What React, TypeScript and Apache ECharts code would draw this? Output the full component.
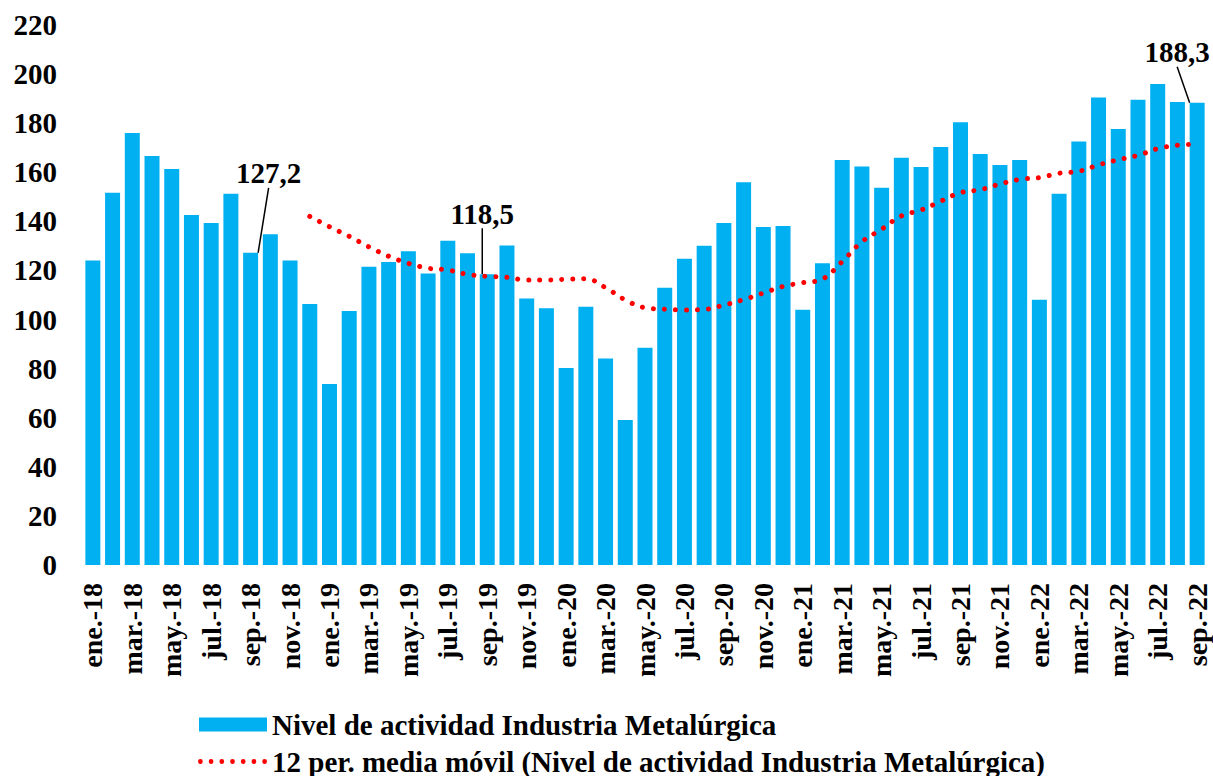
import React, { useEffect, useRef } from "react";
import * as echarts from "echarts";

const monthAbbr = ["ene.", "feb.", "mar.", "abr.", "may.", "jun.", "jul.", "ago.", "sep.", "oct.", "nov.", "dic."];
const years = ["18", "19", "20", "21", "22"];
const lastMonthCount = 9; // 2022 ends in sep.

const categories: string[] = [];
years.forEach((y, yi) => {
  const n = yi === years.length - 1 ? lastMonthCount : 12;
  for (let m = 0; m < n; m++) categories.push(`${monthAbbr[m]}-${y}`);
});

const activity = [
  124.1, 151.7, 176.0, 166.6, 161.3, 142.6, 139.3, 151.3, 127.2, 134.7, 124.1, 106.3,
  73.7, 103.5, 121.5, 123.4, 127.8, 118.8, 132.1, 127.0, 118.5, 130.2, 108.6, 104.6,
  80.3, 105.2, 84.1, 59.1, 88.5, 113.0, 124.8, 130.1, 139.3, 155.9, 137.7, 138.1,
  104.0, 122.9, 165.0, 162.4, 153.7, 165.9, 162.1, 170.3, 180.4, 167.4, 163.0, 165.0,
  108.1, 151.3, 172.5, 190.5, 177.6, 189.5, 196.0, 188.6, 188.3,
];

// 12-period moving average (starts at dic.-18)
const movingAvg = [
  null, null, null, null, null, null, null, null, null, null, null,
  142.0, 137.8, 133.9, 129.6, 125.8, 122.9, 120.9, 120.2, 118.4, 117.6, 117.2, 116.1,
  116.1, 116.4, 116.6, 113.0, 108.0, 104.8, 104.2, 103.9, 104.1, 105.9, 108.1, 110.8,
  113.5, 115.0, 116.5, 123.6, 131.7, 136.8, 142.2, 144.6, 148.2, 151.7, 152.9, 155.2,
  157.1, 157.8, 159.6, 160.4, 163.0, 165.1, 166.9, 169.6, 171.0, 171.4,
];

const annotatedCategories = ["sep.-18", "sep.-19", "sep.-22"];
const yTicks = { min: 0, max: 220, interval: 20 };

const barName = "Nivel de actividad Industria Metalúrgica";
const maName = "12 per. media móvil (Nivel de actividad Industria Metalúrgica)";

const FONT = "Liberation Serif, Times New Roman, serif";
const FS = 29;

// legend icon: a row of seven dots
function dotsIcon(): string {
  const r = 2.5;
  let d = "";
  for (let i = 0; i < 7; i++) {
    const cx = r + i * 11.2;
    d += `M${cx - r},${r}a${r},${r} 0 1,0 ${2 * r},0a${r},${r} 0 1,0 ${-2 * r},0Z`;
  }
  return "path://" + d;
}

export default function App() {
  const ref = useRef<HTMLDivElement>(null);

  useEffect(() => {
    if (!ref.current) return;
    const chart = echarts.init(ref.current, null, { renderer: "svg" });

    const labelOffsets: Record<string, [number, number]> = {
      "sep.-18": [18, -60],
      "sep.-19": [-5, -41],
      "sep.-22": [-20, -31],
    };

    const barData = activity.map((v, i) => {
      const cat = categories[i];
      if (annotatedCategories.includes(cat)) {
        return {
          value: v,
          label: { show: true },
          labelLine: { show: true },
        };
      }
      return { value: v };
    });

    const legendText = { fontFamily: FONT, fontWeight: "bold", fontSize: FS, color: "#000" };

    const option: any = {
      animation: false,
      textStyle: { fontFamily: FONT },
      grid: {
        left: 83,
        right: 6,
        top: 25,
        bottom: 211,
        containLabel: false,
        outerBoundsMode: "none",
      },
      legend: [
        {
          left: 194,
          top: 705,
          itemWidth: 68,
          itemHeight: 14,
          itemGap: 0,
          textStyle: legendText,
          data: [{ name: barName, icon: "rect" }],
        },
        {
          left: 193,
          top: 742,
          itemWidth: 69,
          itemHeight: 5,
          itemGap: 0,
          textStyle: legendText,
          data: [{ name: maName, icon: dotsIcon(), itemStyle: { color: "#FF0000" } }],
        },
      ],
      xAxis: {
        type: "category",
        data: categories,
        axisLine: { show: false },
        axisTick: { show: false },
        axisLabel: {
          interval: 1,
          rotate: 90,
          margin: 18,
          fontFamily: FONT,
          fontWeight: "bold",
          fontSize: 28,
          color: "#000",
        },
      },
      yAxis: {
        type: "value",
        min: yTicks.min,
        max: yTicks.max,
        interval: yTicks.interval,
        splitLine: { show: false },
        axisLine: { show: false },
        axisTick: { show: false },
        axisLabel: {
          margin: 26,
          fontFamily: FONT,
          fontWeight: "bold",
          fontSize: FS,
          color: "#000",
        },
      },
      series: [
        {
          name: barName,
          type: "bar",
          data: barData,
          barCategoryGap: "24%",
          itemStyle: { color: "#00B0F0" },
          label: {
            show: false,
            position: "top",
            fontFamily: FONT,
            fontWeight: "bold",
            fontSize: FS,
            color: "#000",
            formatter: (p: any) => String(p.value).replace(".", ","),
          },
          labelLine: { show: false, lineStyle: { color: "#000", width: 1.5 } },
          labelLayout: (p: any) => {
            const o = labelOffsets[categories[p.dataIndex]];
            return o ? { dx: o[0], dy: o[1] } : {};
          },
        },
        {
          name: maName,
          type: "line",
          data: movingAvg,
          smooth: 0.4,
          showSymbol: false,
          symbol: "none",
          connectNulls: false,
          itemStyle: { color: "#FF0000" },
          lineStyle: { color: "#FF0000", width: 5, type: [0.01, 11], cap: "round" },
          z: 3,
        },
      ],
    };

    chart.setOption(option);
    return () => chart.dispose();
  }, []);

  return (
    <div
      ref={ref}
      style={{ position: "fixed", left: 0, top: 0, width: 1213, height: 776, background: "#fff" }}
    />
  );
}
